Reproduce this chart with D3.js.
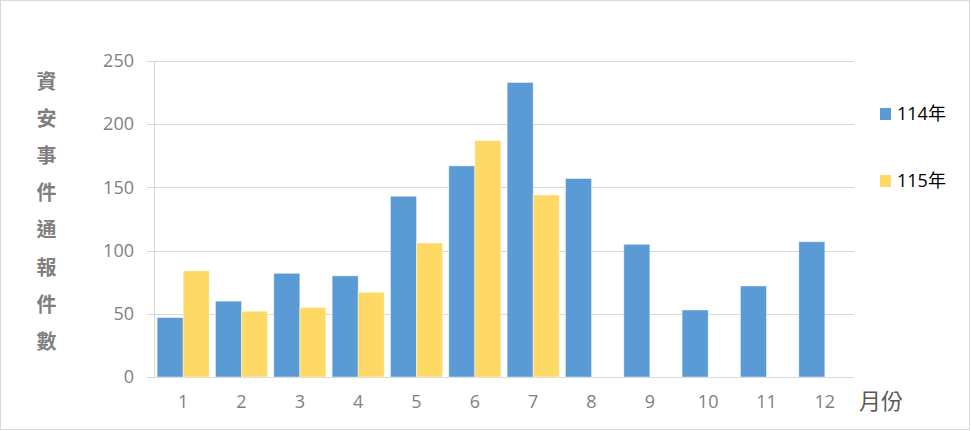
<!DOCTYPE html>
<html>
<head>
<meta charset="utf-8">
<script src="https://cdn.jsdelivr.net/npm/d3@7"></script>
<style>
  body { margin: 0; background: #fff; }
  text { font-family: "Open Sans", "Noto Sans CJK TC", sans-serif; }
</style>
</head>
<body>
<div id="chart"></div>
<script>
// Months, series and values
const months = ["1", "2", "3", "4", "5", "6", "7", "8", "9", "10", "11", "12"];
const seriesNames = ["114年", "115年"];
const values114 = [47, 60, 82, 80, 143, 167, 233, 157, 105, 53, 72, 107];
const values115 = [84, 52, 55, 67, 106, 187, 144, null, null, null, null, null];
const yTicks = [0, 50, 100, 150, 200, 250];
const yTitle = "資安事件通報件數";
const xTitle = "月份";

const colors = ["#5b9bd5", "#ffd966"];

const svgWidth = 971,
      svgHeight = 431,
      margin = { top: 61, right: 117, bottom: 54, left: 154 };

const width = svgWidth - margin.left - margin.right;
const height = svgHeight - margin.top - margin.bottom;

const svg = d3.select("#chart")
  .append("svg")
  .attr("width", svgWidth)
  .attr("height", svgHeight);

// outer frame
svg.append("rect")
  .attr("x", 0.5).attr("y", 0.5)
  .attr("width", svgWidth - 2).attr("height", svgHeight - 2)
  .attr("fill", "none")
  .attr("stroke", "#d9d9d9");

const chartGroup = svg.append("g")
  .attr("transform", `translate(${margin.left}, ${margin.top})`);

const x0 = d3.scaleBand()
  .domain(months)
  .range([0, width])
  .paddingInner(0.108)
  .paddingOuter(0.054);

const x1 = d3.scaleBand()
  .domain(seriesNames)
  .range([0, x0.bandwidth()]);

const y = d3.scaleLinear()
  .domain([0, 250])
  .range([height, 0]);

// gridlines
chartGroup.append("g")
  .selectAll("line")
  .data(yTicks)
  .enter()
  .append("line")
  .attr("x1", -7)
  .attr("x2", width)
  .attr("y1", d => Math.round(y(d)) + 0.5)
  .attr("y2", d => Math.round(y(d)) + 0.5)
  .attr("stroke", "#d9d9d9")
  .attr("stroke-width", 1);

// left axis line
chartGroup.append("line")
  .attr("x1", 0.5).attr("x2", 0.5)
  .attr("y1", 0).attr("y2", height)
  .attr("stroke", "#d9d9d9");

// y axis labels
const leftAxis = d3.axisLeft(y).tickValues(yTicks).tickSize(0).tickPadding(20);
const yAxis = chartGroup.append("g").call(leftAxis);
yAxis.select(".domain").remove();
yAxis.selectAll("text")
  .attr("font-size", "18px")
  .attr("fill", "#7f7f7f")
  .attr("font-family", "'Open Sans', sans-serif");

// x axis labels
const bottomAxis = d3.axisBottom(x0).tickSize(0).tickPadding(18);
const xAxis = chartGroup.append("g")
  .attr("transform", `translate(0, ${height})`)
  .call(bottomAxis);
xAxis.select(".domain").remove();
xAxis.selectAll("text")
  .attr("font-size", "18px")
  .attr("fill", "#7f7f7f")
  .attr("font-family", "'Open Sans', sans-serif");

// bars
const rows = months.map((m, i) => ({
  month: m,
  vals: [
    { key: seriesNames[0], value: values114[i] },
    { key: seriesNames[1], value: values115[i] }
  ]
}));

chartGroup.append("g")
  .selectAll("g")
  .data(rows)
  .enter()
  .append("g")
  .attr("transform", d => `translate(${x0(d.month)}, 0)`)
  .selectAll("rect")
  .data(d => d.vals.filter(v => v.value != null))
  .enter()
  .append("rect")
  .attr("x", d => x1(d.key))
  .attr("y", d => y(d.value))
  .attr("width", x1.bandwidth())
  .attr("height", d => height - y(d.value))
  .attr("fill", d => colors[seriesNames.indexOf(d.key)])
  .attr("stroke", "rgba(255,255,255,0.5)")
  .attr("stroke-width", 0.8);

// y title, vertical stacked characters
svg.append("g")
  .selectAll("text")
  .data(yTitle.split(""))
  .enter()
  .append("text")
  .attr("x", 46.5)
  .attr("y", (d, i) => 82 + i * 37.1)
  .attr("dy", "0.35em")
  .attr("text-anchor", "middle")
  .attr("font-size", "20px")
  .attr("font-weight", "bold")
  .attr("fill", "#7f7f7f")
  .attr("font-family", "'Noto Sans CJK TC', sans-serif")
  .text(d => d);

// x title
svg.append("text")
  .attr("x", 859)
  .attr("y", 401)
  .attr("dy", "0.35em")
  .attr("font-size", "22px")
  .attr("fill", "#595959")
  .attr("font-family", "'Noto Sans CJK TC', sans-serif")
  .text(xTitle);

// legend
const legend = svg.append("g")
  .selectAll("g")
  .data(seriesNames)
  .enter()
  .append("g")
  .attr("transform", (d, i) => `translate(880, ${108 + i * 67})`);

legend.append("rect")
  .attr("width", 11)
  .attr("height", 12)
  .attr("fill", (d, i) => colors[i]);

legend.append("text")
  .attr("x", 17)
  .attr("y", 6)
  .attr("dy", "0.35em")
  .attr("font-size", "18px")
  .attr("fill", "#000")
  .attr("font-family", "'Open Sans', 'Noto Sans CJK TC', sans-serif")
  .text(d => d);
</script>
</body>
</html>
